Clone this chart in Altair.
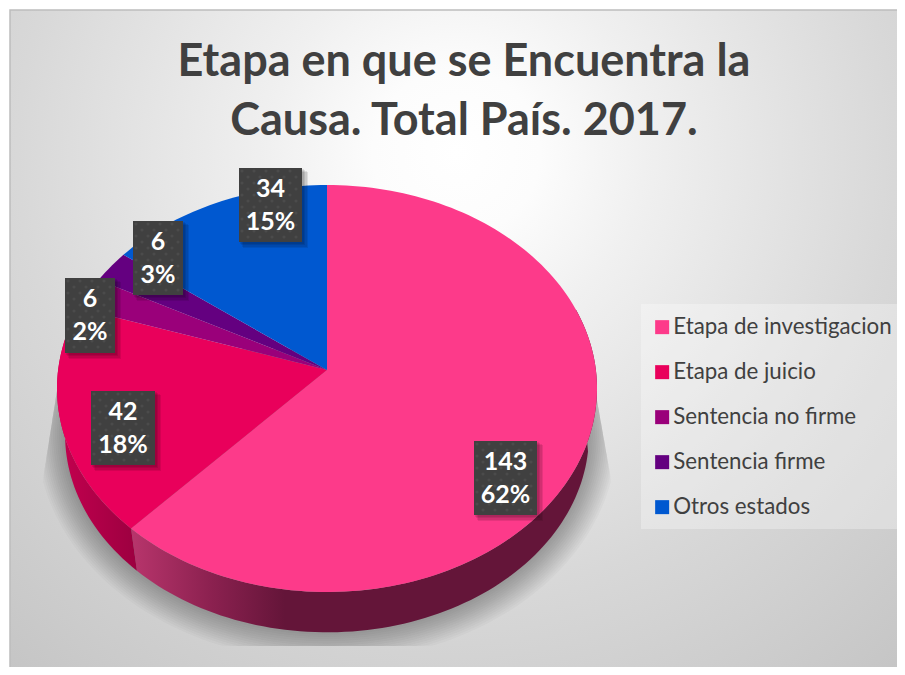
import math
import altair as alt

# ---- chart content ----
categories = ["Etapa de investigacion", "Etapa de juicio", "Sentencia no firme", "Sentencia firme", "Otros estados"]
values = [143, 42, 6, 6, 34]
percent_labels = ["62%", "18%", "2%", "3%", "15%"]
colors = ["#FD3A8A", "#E9005B", "#9A007A", "#640080", "#0058D0"]
title_lines = ["Etapa en que se Encuentra la", "Causa. Total País. 2017."]

# ---- layout (page pixels; plot origin sits at 8,8) ----
W, H = 889, 659
OX, OY = 8, 8
APEX = (327, 370)
RX, RY, K = 268.9, 201.8, 0.0909
BASE_SCALE, BASE_DROP = 0.97, 47
box_lefts = [474, 91, 65, 133, 239]
box_rights = [537, 155, 115, 183, 302]
box_tops = [441, 391, 278, 221, 168]
box_bottoms = [515, 465, 353, 295, 242]


def rim(deg, scale=1.0, drop=0.0, grow=0.0):
    """Point on the tilted pie rim, angle clockwise from 12 o'clock."""
    t = math.radians(deg)
    u, v = math.sin(t), -math.cos(t)
    d = 1 - K * v
    x = APEX[0] + (RX * scale + grow) * u / d
    y = APEX[1] + drop + (RY * scale + grow) * v / d
    return [x - OX, y - OY]


def arc(a, b, **kw):
    n = max(2, int(abs(b - a) / 1.5) + 2)
    return [rim(a + (b - a) * i / (n - 1), **kw) for i in range(n)]


def feature(points, **props):
    ring = points + [points[0]]
    return {"type": "Feature", "properties": props, "geometry": {"type": "Polygon", "coordinates": [ring]}}


def collection(features):
    return alt.InlineData(values={"type": "FeatureCollection", "features": features},
                          format=alt.DataFormat(property="features"))


def shadow_clip(p):
    """The soft shadow is cut by straight edges, left, right and below."""
    x, y = p[0] + OX, p[1] + OY
    y = min(y, 646)
    left = 57 + (y - 390) * (38 - 57) / (510 - 390)
    right = 597 + (y - 400) * (613 - 597) / (490 - 400)
    x = min(max(x, max(left, 38)), min(right, 613))
    return [x - OX, y - OY]


total = sum(values)
edges = [0.0]
for v in values:
    edges.append(edges[-1] + v / total * 360)

tops = [feature([[APEX[0] - OX, APEX[1] - OY]] + arc(edges[i], edges[i + 1]), cat=categories[i])
        for i in range(len(values))]

base = dict(scale=BASE_SCALE, drop=BASE_DROP)
pink_side = feature(arc(72, edges[1]) + arc(edges[1], 100, **base))
red_side = feature(arc(edges[1], 290) + arc(275, edges[1], **base))

shadows = [feature([shadow_clip(p) for p in arc(84 - g * 0.3, 276 + g * 0.3, scale=BASE_SCALE, drop=BASE_DROP - 2, grow=g)]
                   + [rim(276), rim(84)])
           for g in range(2, 30, 2)]

proj = alt.Projection(type="identity", scale=1, translate=[0, 0])

bg_data = alt.Data(values=[{"x": 2, "x2": 895, "y": 2, "y2": 895}])
background = alt.Chart(bg_data).mark_rect(
    fill=alt.Gradient(gradient="radial", x1=0.5, y1=0.16, r1=0, x2=0.5, y2=0.16, r2=0.78,
                      stops=[alt.GradientStop(color="#ffffff", offset=0),
                             alt.GradientStop(color="#fcfcfc", offset=0.12),
                             alt.GradientStop(color="#f0f0f0", offset=0.27),
                             alt.GradientStop(color="#d8d8d8", offset=0.63),
                             alt.GradientStop(color="#c4c4c4", offset=1)]),
    stroke="#bdbdbd", strokeWidth=1.5,
).encode(x=alt.X("x:Q", scale=None), x2="x2:Q", y=alt.Y("y:Q", scale=None), y2="y2:Q")

title_data = alt.Data(values=[{"t": title_lines[0], "x": 464 - OX, "y": 76 - OY},
                              {"t": title_lines[1], "x": 464 - OX, "y": 135 - OY}])
title = alt.Chart(title_data).mark_text(font="Lato", fontWeight="bold", fontSize=45, color="#404040",
                                        align="center", baseline="alphabetic").encode(
    x=alt.X("x:Q", scale=None), y=alt.Y("y:Q", scale=None), text="t:N")

shadow = alt.Chart(collection(shadows)).mark_geoshape(fill="#000000", fillOpacity=0.022, strokeWidth=0).project(**proj.to_dict())
side1 = alt.Chart(collection([pink_side])).mark_geoshape(
    fill=alt.Gradient(gradient="linear", x1=0, y1=0, x2=1, y2=0,
                      stops=[alt.GradientStop(color="#b8356c", offset=0),
                             alt.GradientStop(color="#8c2150", offset=0.17),
                             alt.GradientStop(color="#641539", offset=0.33),
                             alt.GradientStop(color="#641539", offset=1)]),
    strokeWidth=0).project(**proj.to_dict())
side2 = alt.Chart(collection([red_side])).mark_geoshape(
    fill=alt.Gradient(gradient="linear", x1=0, y1=0, x2=1, y2=0,
                      stops=[alt.GradientStop(color="#c4004f", offset=0),
                             alt.GradientStop(color="#9c0040", offset=1)]),
    strokeWidth=0).project(**proj.to_dict())

top = alt.Chart(collection(tops)).mark_geoshape(strokeWidth=0).encode(
    color=alt.Color("properties.cat:N", sort=categories,
                    scale=alt.Scale(domain=categories, range=colors),
                    legend=alt.Legend(title=None, orient="none", legendX=651 - OX, legendY=316 - OY,
                                      symbolType="square", symbolSize=196, symbolStrokeWidth=0,
                                      labelFont="Lato", labelFontSize=22.3, labelColor="#404040",
                                      labelLimit=260, rowPadding=22, labelOffset=0))
).project(**proj.to_dict())

legend_bg = alt.Chart(alt.Data(values=[{"x": 641 - OX, "x2": 902 - OX, "y": 304 - OY, "y2": 529 - OY}])).mark_rect(
    fill="#ffffff", fillOpacity=0.3).encode(
    x=alt.X("x:Q", scale=None), x2="x2:Q", y=alt.Y("y:Q", scale=None), y2="y2:Q")

boxes = [{"x": box_lefts[i] - OX, "x2": box_rights[i] - OX, "y": box_tops[i] - OY, "y2": box_bottoms[i] - OY,
          "cx": (box_lefts[i] + box_rights[i]) / 2 - OX,
          "y1": box_tops[i] + 29 - OY, "y3": box_tops[i] + 62 - OY,
          "v": str(values[i]), "p": percent_labels[i]} for i in range(len(values))]
box_data = alt.Data(values=boxes)
shadow_boxes = [{"x": b["x"] + o, "x2": b["x2"] + o + g, "y": b["y"] + o, "y2": b["y2"] + o + g}
                for b in boxes for o, g in [(1, 1), (2, 1), (3, 2), (4, 2)]]
box_shadow = alt.Chart(alt.Data(values=shadow_boxes)).mark_rect(fill="#000000", fillOpacity=0.09).encode(
    x=alt.X("x:Q", scale=None), x2="x2:Q", y=alt.Y("y:Q", scale=None), y2="y2:Q")
box_rect = alt.Chart(box_data).mark_rect(fill="#404040").encode(
    x=alt.X("x:Q", scale=None), x2="x2:Q", y=alt.Y("y:Q", scale=None), y2="y2:Q")

dots = []
for b in boxes:
    row = 0
    yy = b["y"] + 3
    while yy < b["y2"] - 1:
        xx = b["x"] + 3 + (6 if row % 2 else 0)
        while xx < b["x2"] - 1:
            dots.append({"x": xx, "y": yy})
            xx += 12
        yy += 6
        row += 1
box_dots = alt.Chart(alt.Data(values=dots)).mark_point(filled=True, size=10, color="#5c5c5c", opacity=0.4).encode(
    x=alt.X("x:Q", scale=None), y=alt.Y("y:Q", scale=None))

label_common = dict(font="Lato", fontWeight="bold", fontSize=25, color="#ffffff", align="center", baseline="alphabetic")
lab1 = alt.Chart(box_data).mark_text(**label_common).encode(
    x=alt.X("cx:Q", scale=None), y=alt.Y("y1:Q", scale=None), text="v:N")
lab2 = alt.Chart(box_data).mark_text(**label_common).encode(
    x=alt.X("cx:Q", scale=None), y=alt.Y("y3:Q", scale=None), text="p:N")

chart = alt.layer(background, title, legend_bg, shadow, side1, side2, top,
                  box_shadow, box_rect, box_dots, lab1, lab2).properties(
    width=W, height=H, padding=0, autosize=alt.AutoSizeParams(type="none"), background="#ffffff"
).configure_view(stroke=None)

chart.save("out.html", embed_options={"renderer": "svg", "actions": False})
